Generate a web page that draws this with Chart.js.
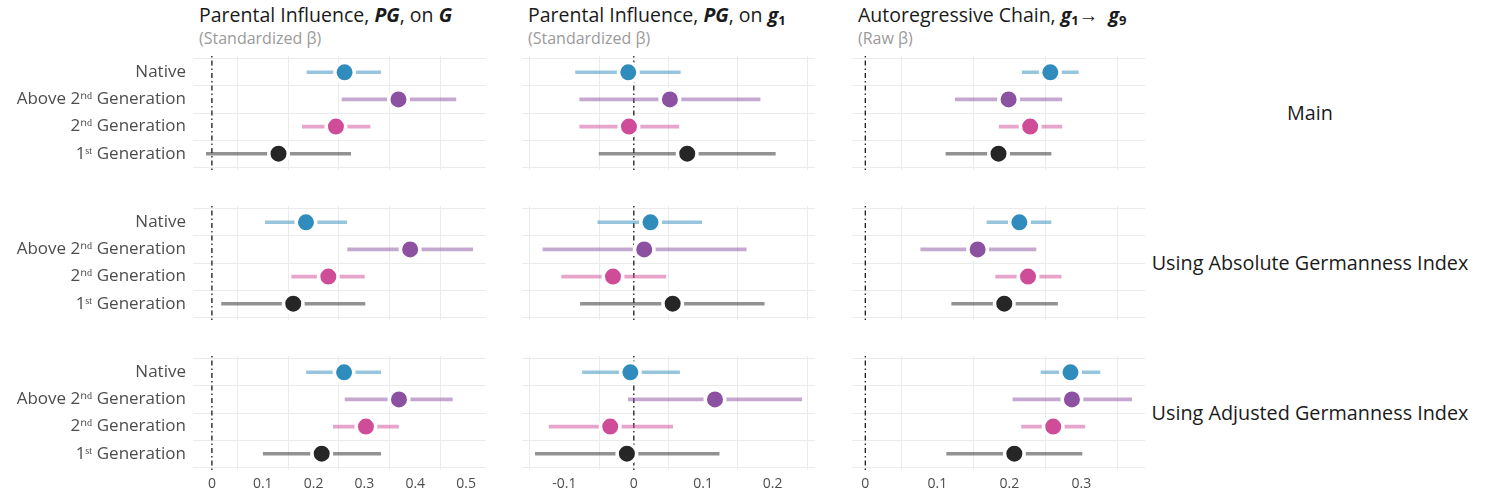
<!DOCTYPE html>
<html>
<head>
<meta charset="utf-8">
<script src="https://cdn.jsdelivr.net/npm/chart.js@4.4.0/dist/chart.umd.min.js"></script>
<style>
  body { margin: 0; background: #fff; font-family: "Open Sans", sans-serif; }
  #wrap { position: relative; width: 1486px; height: 496px; overflow: hidden; }
  #wrap canvas { position: absolute; }
  .title { position: absolute; top: 3px; font-size: 19.5px; line-height: 24px; color: #1a1a1a; white-space: nowrap; }
  .title sub { font-size: 13px; vertical-align: -3px; }
  .sub { position: absolute; top: 28px; font-size: 16px; line-height: 20px; color: #9a9a9a; white-space: nowrap; }
  .strip { position: absolute; font-size: 19.8px; color: #1a1a1a; white-space: nowrap; transform: translate(-50%, -50%); }
</style>
</head>
<body>
<div id="wrap">
  <div class="title" style="left:199px">Parental Influence, <b><i>PG</i></b>, on <b><i>G</i></b></div>
  <div class="sub" style="left:199px">(Standardized β)</div>
  <div class="title" style="left:528px">Parental Influence, <b><i>PG</i></b>, on <b><i>g</i><sub>1</sub></b></div>
  <div class="sub" style="left:528px">(Standardized β)</div>
  <div class="title" style="left:858px">Autoregressive Chain, <b><i>g</i><sub>1</sub></b>→&nbsp; <b><i>g</i><sub>9</sub></b></div>
  <div class="sub" style="left:858px">(Raw β)</div>
  <div class="strip" style="left:1310px; top:112px">Main</div>
  <div class="strip" style="left:1310px; top:262px">Using Absolute Germanness Index</div>
  <div class="strip" style="left:1310px; top:412px">Using Adjusted Germanness Index</div>
</div>
<script>
// categories top to bottom
const categories = ['Native', 'Above 2ⁿᵈ Generation', '2ⁿᵈ Generation', '1ˢᵗ Generation'];
const pointColors = ['#2f8cbd', '#8c52a1', '#cf4c99', '#262626'];
const barColors = ['rgba(47,140,189,0.5)', 'rgba(140,82,161,0.5)', 'rgba(207,76,153,0.5)', 'rgba(38,38,38,0.5)'];

// x tick labels per column
const ticksG = [0, 0.1, 0.2, 0.3, 0.4, 0.5];
const ticksG1 = [-0.1, 0, 0.1, 0.2];
const ticksAR = [0, 0.1, 0.2, 0.3];

// Main
const mainG_est = [0.261, 0.367, 0.244, 0.131];
const mainG_lo = [0.187, 0.256, 0.178, -0.011];
const mainG_hi = [0.332, 0.480, 0.311, 0.273];
const mainG1_est = [-0.008, 0.052, -0.007, 0.077];
const mainG1_lo = [-0.084, -0.078, -0.078, -0.050];
const mainG1_hi = [0.067, 0.182, 0.065, 0.204];
const mainAR_est = [0.257, 0.199, 0.229, 0.185];
const mainAR_lo = [0.218, 0.125, 0.186, 0.112];
const mainAR_hi = [0.296, 0.273, 0.273, 0.258];

// Using Absolute Germanness Index
const absG_est = [0.185, 0.390, 0.229, 0.160];
const absG_lo = [0.105, 0.267, 0.157, 0.019];
const absG_hi = [0.265, 0.513, 0.300, 0.301];
const absG1_est = [0.024, 0.015, -0.030, 0.056];
const absG1_lo = [-0.052, -0.131, -0.104, -0.077];
const absG1_hi = [0.098, 0.162, 0.046, 0.188];
const absAR_est = [0.214, 0.156, 0.226, 0.193];
const absAR_lo = [0.169, 0.077, 0.181, 0.120];
const absAR_hi = [0.258, 0.237, 0.272, 0.267];

// Using Adjusted Germanness Index
const adjG_est = [0.260, 0.368, 0.303, 0.216];
const adjG_lo = [0.186, 0.262, 0.239, 0.101];
const adjG_hi = [0.332, 0.473, 0.367, 0.332];
const adjG1_est = [-0.005, 0.117, -0.034, -0.010];
const adjG1_lo = [-0.074, -0.008, -0.122, -0.142];
const adjG1_hi = [0.066, 0.242, 0.056, 0.123];
const adjAR_est = [0.285, 0.287, 0.261, 0.207];
const adjAR_lo = [0.244, 0.205, 0.217, 0.113];
const adjAR_hi = [0.326, 0.370, 0.305, 0.301];

const grid = [
  [[mainG_est, mainG_lo, mainG_hi], [mainG1_est, mainG1_lo, mainG1_hi], [mainAR_est, mainAR_lo, mainAR_hi]],
  [[absG_est, absG_lo, absG_hi], [absG1_est, absG1_lo, absG1_hi], [absAR_est, absAR_lo, absAR_hi]],
  [[adjG_est, adjG_lo, adjG_hi], [adjG1_est, adjG1_lo, adjG1_hi], [adjAR_est, adjAR_lo, adjAR_hi]]
];
const colTicks = [ticksG, ticksG1, ticksAR];

const panelLeft = [193, 522, 852];
const panelTop = [56, 206, 356];
const panelW = 293, panelH = 114, labelW = 193, xAxisH = 30;

// shared x range per column, 5% padding like ggplot, zero line included
const colRange = [0, 1, 2].map(c => {
  let lo = 0, hi = 0;
  for (let r = 0; r < 3; r++) {
    lo = Math.min(lo, ...grid[r][c][1]);
    hi = Math.max(hi, ...grid[r][c][2]);
  }
  const pad = (hi - lo) * 0.05;
  return [lo - pad, hi + pad];
});

const wrap = document.getElementById('wrap');

for (let r = 0; r < 3; r++) {
  for (let c = 0; c < 3; c++) {
    const [est, lo, hi] = grid[r][c];
    const bottom = r === 2;
    const canvas = document.createElement('canvas');
    const w = panelW + (c === 0 ? labelW : 0);
    const h = panelH + (bottom ? xAxisH : 0);
    canvas.width = w; canvas.height = h;
    canvas.style.width = w + 'px'; canvas.style.height = h + 'px';
    canvas.style.left = (c === 0 ? panelLeft[0] - labelW : panelLeft[c]) + 'px';
    canvas.style.top = panelTop[r] + 'px';
    wrap.appendChild(canvas);

    new Chart(canvas.getContext('2d'), {
      type: 'bar',
      data: {
        datasets: [
          { // point estimates
            type: 'line',
            data: est.map((v, i) => ({ x: v, y: i })),
            showLine: false,
            pointRadius: 9.75,
            pointBorderWidth: 3.5,
            pointBackgroundColor: pointColors,
            pointBorderColor: '#ffffff',
            order: 0
          },
          { // confidence intervals
            type: 'bar',
            indexAxis: 'y',
            data: lo.map((v, i) => ({ x: [v, hi[i]], y: i })),
            backgroundColor: barColors,
            barThickness: 3,
            order: 1
          },
          { // zero reference line
            type: 'line',
            data: [{ x: 0, y: -0.6 }, { x: 0, y: 3.6 }],
            borderColor: '#1a1a1a',
            borderWidth: 1.3,
            borderDash: [1.5, 3, 5, 3],
            pointRadius: 0,
            order: 2
          }
        ]
      },
      options: {
        responsive: false,
        animation: false,
        layout: { padding: 0, autoPadding: false },
        plugins: { legend: { display: false }, tooltip: { enabled: false } },
        scales: {
          x: {
            type: 'linear',
            position: 'bottom',
            min: colRange[c][0],
            max: colRange[c][1],
            offset: false,
            afterBuildTicks: s => { s.ticks = colTicks[c].map(v => ({ value: v })); },
            afterFit: s => { s.height = bottom ? xAxisH : 0; s.paddingLeft = 0; s.paddingRight = 0; },
            grid: { color: '#ebebeb', lineWidth: 1, drawTicks: false },
            border: { display: false },
            ticks: {
              display: bottom,
              padding: 6,
              color: '#4d4d4d',
              font: { family: 'Open Sans', size: 14 },
              callback: v => (v === 0 ? '0' : String(+v.toFixed(1)))
            }
          },
          y: {
            type: 'linear',
            position: 'left',
            min: -0.6,
            max: 3.6,
            reverse: true,
            offset: false,
            afterBuildTicks: s => { s.ticks = categories.map((_, i) => ({ value: i })); },
            afterFit: s => { s.width = c === 0 ? labelW : 0; s.paddingTop = 0; s.paddingBottom = 0; },
            grid: { color: '#ebebeb', lineWidth: 1, drawTicks: false },
            border: { display: false },
            ticks: {
              display: c === 0,
              padding: 7,
              color: '#4d4d4d',
              font: { family: 'Open Sans', size: 17 },
              callback: v => categories[v]
            }
          }
        }
      }
    });
  }
}
</script>
</body>
</html>
